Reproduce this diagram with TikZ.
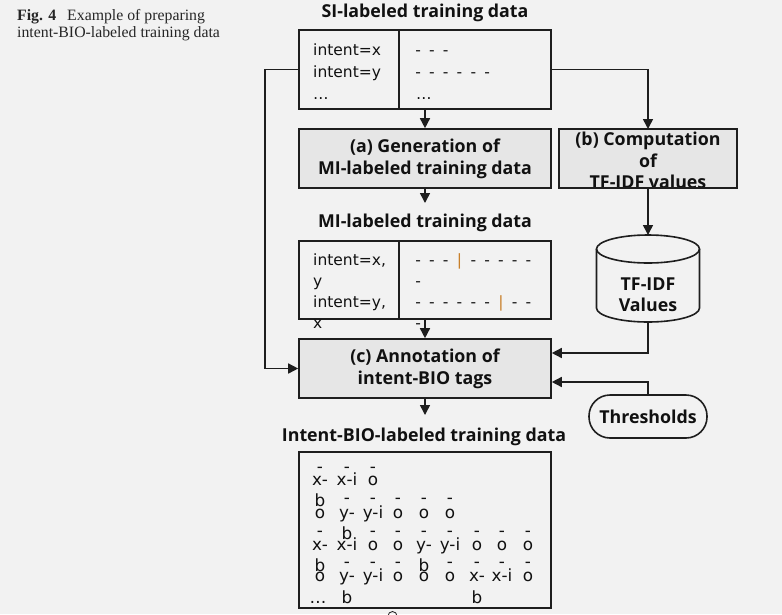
\documentclass[tikz,border=0pt]{standalone}
\usepackage{fontspec}
\setmainfont{Liberation Serif}
\newfontfamily\bodyf{DejaVu Sans}
\newfontfamily\ttlf{Open Sans}
\usetikzlibrary{arrows.meta,calc}
\definecolor{bgc}{HTML}{F2F2F2}
\definecolor{boxc}{HTML}{E6E6E6}
\definecolor{lnc}{HTML}{1E1E1E}
\definecolor{txc}{HTML}{111111}
\definecolor{barc}{HTML}{C8802A}
\newcommand\dk[1]{\makebox[13.8pt][c]{#1}}
\begin{document}
\begin{tikzpicture}[x=1pt,y=-1pt,
 every node/.style={text=txc},
 boxln/.style={draw=lnc, line width=1.6pt},
 proc/.style={boxln, fill=boxc, minimum height=59pt, inner sep=0pt, align=center, font=\ttlf\bfseries\fontsize{17.8}{22}\selectfont},
 ttl/.style={font=\ttlf\bfseries\fontsize{17.8}{22}\selectfont, inner sep=0pt},
 bodyt/.style={font=\bodyf\fontsize{15.5}{22}\selectfont, inner sep=0pt, anchor=base west},
 biot/.style={font=\bodyf\fontsize{16.8}{20}\selectfont, inner sep=0pt, anchor=base},
 capt/.style={font=\fontsize{15.8}{17}\selectfont, inner sep=0pt, anchor=base west, text=black!85},
 ln/.style={draw=lnc, line width=1.5pt},
 arr/.style={ln, -{Triangle[length=10pt,width=10pt]}},
]
\fill[bgc] (0,0) rectangle (782,614);
\useasboundingbox (0,0) rectangle (782,614);

% caption
\node[capt] (cap1) at (17,20) {\textbf{Fig. 4}};
\node[capt] (cap2) at (67,20) {Example of preparing};
\node[capt] (cap3) at (17,37) {intent-BIO-labeled training data};

% titles
\node[ttl, anchor=base] (sit) at (425,17) {SI-labeled training data};
\node[ttl, anchor=base] (mit) at (425,227) {MI-labeled training data};
\node[ttl, anchor=base] (biot) at (424,441) {Intent-BIO-labeled training data};
\coordinate (miin) at (425,203);
\coordinate (bioin) at (425,415);

% SI box
\node[boxln, minimum width=252pt, minimum height=79pt, inner sep=0pt] (si) at (425,69.5) {};
\draw[boxln] ($(si.north west)+(101,0)$) -- ($(si.south west)+(101,0)$);
\node[bodyt] (si1) at (313,55) {intent=x};
\node[bodyt] (si2) at (313,77) {intent=y};
\node[bodyt] (si3) at (313,99) {…};
\node[bodyt] (sr1) at (411,55) {\dk{-}\dk{-}\dk{-}};
\node[bodyt] (sr2) at (411,77) {\dk{-}\dk{-}\dk{-}\dk{-}\dk{-}\dk{-}};
\node[bodyt] (sr3) at (416,99) {…};

% process boxes
\node[proc, minimum width=252pt] (a) at (425,158.5) {(a) Generation of\\MI-labeled training data};
\node[proc, minimum width=178pt, outer sep=0pt] (b) at (648,158.5) {};
\begin{scope}
\clip (b.north west) rectangle (b.south east);
\node[ttl, anchor=base] (b1) at (648,145.5) {(b) Computation};
\node[ttl, anchor=base] (b2) at (648,167) {of};
\node[ttl, anchor=base] (b3) at (648,188.5) {TF-IDF values};
\end{scope}
\draw[boxln] (b.north west) rectangle (b.south east);
\node[proc, minimum width=252pt] (c) at (425,368.5) {(c) Annotation of\\intent-BIO tags};

% MI box
\node[boxln, minimum width=252pt, minimum height=78pt, inner sep=0pt] (mi) at (425,280) {};
\draw[boxln] ($(mi.north west)+(101,0)$) -- ($(mi.south west)+(101,0)$);
\node[bodyt] (mi1) at (313,265) {intent=x,};
\node[bodyt] (mi2) at (313,286) {y};
\node[bodyt] (mi3) at (313,307) {intent=y,};
\node[bodyt] (mi4) at (313,328) {x};
\node[bodyt] (mr1) at (411,265) {\dk{-}\dk{-}\dk{-}\dk{\textcolor{barc}{|}}\dk{-}\dk{-}\dk{-}\dk{-}\dk{-}};
\node[bodyt] (mr2) at (411,286) {\dk{-}};
\node[bodyt] (mr3) at (411,307) {\dk{-}\dk{-}\dk{-}\dk{-}\dk{-}\dk{-}\dk{\textcolor{barc}{|}}\dk{-}\dk{-}};
\node[bodyt] (mr4) at (411,328) {\dk{-}};

% cylinder
\coordinate (cyltop) at (648,235);
\coordinate (cylbot) at (648,322);
\fill[bgc] (596.5,249) -- (596.5,308) arc[start angle=180,end angle=360,x radius=51.5pt,y radius=14pt] -- (699.5,249) arc[start angle=0,end angle=180,x radius=51.5pt,y radius=14pt] -- cycle;
\draw[boxln] (596.5,249) -- (596.5,308) arc[start angle=180,end angle=360,x radius=51.5pt,y radius=14pt] -- (699.5,249);
\draw[boxln] (648,249) ellipse[x radius=51.5pt,y radius=14pt];
\node[ttl, anchor=base] (tf1) at (648,290) {TF-IDF};
\node[ttl, anchor=base] (tf2) at (648,311) {Values};

% thresholds
\node[boxln, ttl, fill=bgc, rounded corners=21pt, minimum width=118pt, minimum height=43pt] (thr) at (648,416.5) {Thresholds};

% BIO box
\node[boxln, minimum width=252pt, minimum height=156pt, inner sep=0pt] (bio) at (425,530) {};
\foreach \xx [count=\k] in {320,347,373} \node[biot] (d1\k) at (\xx,472) {-};
\foreach \xx/\tt [count=\k] in {320/x-,347/x-i,373/o} \node[biot] (t1\k) at (\xx,485) {\tt};
\node[biot] (b11) at (320,506) {b};
\foreach \xx [count=\k] in {347,373,398,424,450} \node[biot] (d2\k) at (\xx,503) {-};
\foreach \xx/\tt [count=\k] in {320/o,347/y-,373/y-i,398/o,424/o,450/o} \node[biot] (t2\k) at (\xx,518) {\tt};
\node[biot] (b21) at (347,539) {b};
\foreach \xx [count=\k] in {320,373,398,424,450,477,502,528} \node[biot] (d3\k) at (\xx,536) {-};
\foreach \xx/\tt [count=\k] in {320/x-,347/x-i,373/o,398/o,424/y-,450/y-i,477/o,502/o,528/o} \node[biot] (t3\k) at (\xx,550) {\tt};
\node[biot] (b31) at (320,571) {b};
\node[biot] (b32) at (424,571) {b};
\foreach \xx [count=\k] in {347,373,398,450,477,502,528} \node[biot] (d4\k) at (\xx,567) {-};
\foreach \xx/\tt [count=\k] in {320/o,347/y-,373/y-i,398/o,424/o,450/o,477/x-,502/x-i,528/o} \node[biot] (t4\k) at (\xx,581) {\tt};
\node[biot] (b41) at (347,603) {b};
\node[biot] (b42) at (477,603) {b};
\node[biot] (dots) at (318,603) {…};
\draw[lnc, line width=0.8pt] (392.5,616) circle[radius=4.5pt];

% connectors
\draw[arr] (si.south) -- (a.north);
\draw[arr] (si.east) -| (b.north);
\draw[arr] (si.west) -- ++(-33,0) |- (c.west);
\draw[arr] (a.south) -- (miin);
\draw[arr] (b.south) -- (cyltop);
\draw[arr] (mi.south) -- (c.north);
\draw[arr] (cylbot) |- ([yshift=15.5pt]c.east);
\draw[arr] (thr.north) |- ([yshift=-13.5pt]c.east);
\draw[arr] (c.south) -- (bioin);
\end{tikzpicture}
\end{document}
